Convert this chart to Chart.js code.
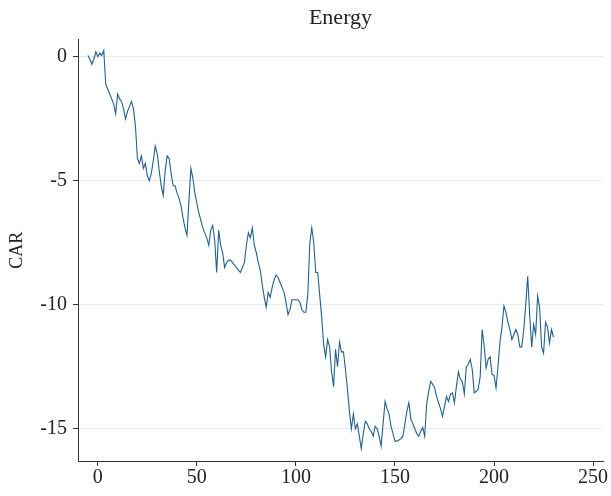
<!DOCTYPE html>
<html>
<head>
<meta charset="utf-8">
<script src="https://cdn.jsdelivr.net/npm/chart.js@4.4.1/dist/chart.umd.min.js"></script>
<style>
  html, body { margin: 0; padding: 0; background: #ffffff; }
  #wrap { width: 611px; height: 496px; position: relative; }
</style>
</head>
<body>
<div id="wrap"><canvas id="c" width="611" height="496"></canvas></div>
<script>
const chartTitle = "Energy";
const yAxisTitle = "CAR";
const firstDay = -5;
const xTickValues = [0, 50, 100, 150, 200, 250];
const yTickValues = [-15, -10, -5, 0];
const carValues = [
  0.05, -0.1, -0.3, -0.1, 0.2, 0.0, 0.15, 0.05, 0.25, -1.1,
  -1.3, -1.5, -1.7, -1.9, -2.3, -1.5, -1.7, -1.8, -2.1, -2.5,
  -2.2, -2.0, -1.8, -2.1, -2.8, -4.1, -4.3, -4.0, -4.5, -4.3,
  -4.8, -5.0, -4.7, -4.2, -3.6, -3.9, -4.6, -5.2, -5.6, -4.6,
  -4.0, -4.1, -4.7, -5.2, -5.2, -5.5, -5.7, -6.0, -6.5, -6.9,
  -7.2, -5.8, -4.5, -4.9, -5.5, -5.9, -6.3, -6.6, -6.9, -7.1,
  -7.3, -7.6, -7.0, -6.8, -7.4, -8.7, -7.0, -7.6, -7.9, -8.5,
  -8.3, -8.2, -8.2, -8.3, -8.4, -8.5, -8.6, -8.7, -8.5, -8.3,
  -7.6, -7.1, -7.3, -6.9, -7.6, -7.9, -8.3, -8.6, -9.2, -9.7,
  -10.1, -9.5, -9.7, -9.3, -9.0, -8.8, -8.9, -9.1, -9.3, -9.5,
  -9.9, -10.4, -10.2, -9.8, -9.8, -9.8, -9.8, -9.9, -10.2, -10.3,
  -10.3, -9.6, -7.5, -6.9, -7.5, -8.7, -8.7, -9.6, -10.5, -11.6,
  -12.1, -11.4, -11.7, -12.7, -13.3, -11.8, -12.5, -11.5, -11.9, -11.9,
  -12.6, -13.4, -14.3, -15.0, -14.4, -15.0, -14.8, -15.3, -15.8, -15.2,
  -14.7, -14.8, -15.0, -15.1, -15.3, -14.9, -15.0, -15.3, -15.7, -14.8,
  -13.9, -14.2, -14.4, -14.9, -15.2, -15.5, -15.5, -15.45, -15.4, -15.3,
  -14.8, -14.3, -13.95, -14.6, -14.8, -15.0, -15.2, -15.3, -15.1, -14.95,
  -15.3, -14.0, -13.5, -13.1, -13.2, -13.35, -13.7, -13.95, -14.2, -14.5,
  -14.1, -13.7, -13.9, -13.6, -13.55, -13.95, -13.3, -12.7, -13.0, -13.1,
  -13.6, -12.5, -12.4, -12.2, -12.6, -13.55, -13.5, -13.4, -12.9, -11.0,
  -11.65, -12.55, -12.2, -12.1, -12.8, -12.85, -13.35, -12.5, -11.5, -10.9,
  -10.05, -10.3, -10.7, -11.0, -11.4, -11.2, -11.0, -11.2, -11.7, -11.7,
  -11.0, -10.0, -8.85, -10.4, -11.7, -10.8, -11.2, -9.65, -10.1, -11.7,
  -11.95, -10.7, -10.9, -11.55, -11.0, -11.3
];

const points = carValues.map((v, i) => ({ x: firstDay + i, y: v }));
const serif = "'Liberation Serif', 'Times New Roman', serif";

new Chart(document.getElementById('c'), {
  type: 'line',
  data: {
    datasets: [{
      data: points,
      borderColor: '#22608c',
      borderWidth: 1.1,
      pointRadius: 0,
      tension: 0,
      fill: false
    }]
  },
  options: {
    responsive: false,
    animation: false,
    layout: { padding: { left: 0, right: 8, top: 0, bottom: 0 } },
    plugins: {
      legend: { display: false },
      tooltip: { enabled: false },
      title: {
        display: true,
        text: chartTitle,
        fullSize: false,
        color: '#222',
        font: { family: serif, size: 22, weight: 'normal' },
        padding: { top: 5, bottom: 8 }
      }
    },
    scales: {
      x: {
        type: 'linear',
        min: -10,
        max: 255,
        afterBuildTicks: s => { s.ticks = xTickValues.map(v => ({ value: v })); },
        afterFit: s => { s.height = 35; },
        border: { display: true, color: '#333', width: 1 },
        grid: { drawOnChartArea: false, drawTicks: true, tickLength: 5, tickColor: '#333' },
        ticks: { color: '#222', font: { family: serif, size: 20 }, padding: 0, maxRotation: 0 }
      },
      y: {
        type: 'linear',
        min: -16.3,
        max: 0.7,
        afterBuildTicks: s => { s.ticks = yTickValues.map(v => ({ value: v })); },
        afterFit: s => { s.width = 78; },
        border: { display: true, color: '#333', width: 1 },
        grid: { color: '#e3eef0', lineWidth: 1, drawTicks: true, tickLength: 5, tickColor: '#333' },
        ticks: { color: '#222', font: { family: serif, size: 20 }, padding: 6 },
        title: {
          display: true,
          text: yAxisTitle,
          color: '#222',
          font: { family: serif, size: 18 },
          padding: { top: 6, bottom: 0 }
        }
      }
    }
  }
});
</script>
</body>
</html>
